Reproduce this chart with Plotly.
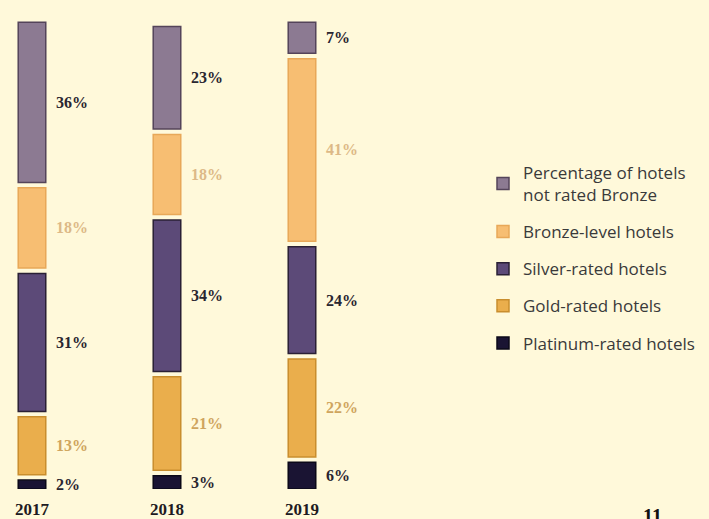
import plotly.graph_objects as go

# ---- data ----
years = ["2017", "2018", "2019"]
platinum = [2, 3, 6]
gold = [13, 21, 22]
silver = [31, 34, 24]
bronze = [18, 18, 41]
not_rated = [36, 23, 7]

series_names = [
    "Platinum-rated hotels",
    "Gold-rated hotels",
    "Silver-rated hotels",
    "Bronze-level hotels",
    "Percentage of hotels<br>not rated Bronze",
]
series_values = [platinum, gold, silver, bronze, not_rated]

# ---- styles ----
fills = ["#1A1433", "#EAAE4C", "#5C4A78", "#F7BE72", "#8C7A92"]
edges = ["#0B0818", "#C98E2E", "#2A2035", "#E8A858", "#54445A"]
label_colors = ["#2A2630", "#CFA55E", "#2A2630", "#DDB987", "#2A2630"]
BG = "#FFF9DA"
GAP = 1.2  # visual gap between stacked segments (data units)

fig = go.Figure()

n = len(series_names)
cum = [0.0] * len(years)
annotations = []
for k, (name, vals) in enumerate(zip(series_names, series_values)):
    bases = [cum[i] + k * GAP for i in range(len(years))]
    fig.add_trace(go.Bar(
        x=years, y=vals, base=bases, name=name,
        width=0.204,
        marker=dict(color=fills[k], line=dict(color=edges[k], width=1.5)),
        legendgroup=str(k), legendrank=n - k,
        hoverinfo="skip",
    ))
    for i, v in enumerate(vals):
        annotations.append(dict(
            x=i, y=bases[i] + v / 2, xref="x", yref="y",
            text=f"<b>{v}%</b>", showarrow=False, xanchor="left", yanchor="middle",
            xshift=22,
            font=dict(family="Liberation Serif", size=16, color=label_colors[k]),
        ))
    cum = [cum[i] + vals[i] for i in range(len(years))]

# small cut-off glyph at bottom right (page number, partly outside the frame)
annotations.append(dict(
    x=652 / 709, y=-0.03, xref="paper", yref="paper", text="<b>11</b>",
    showarrow=False, xanchor="center", yanchor="top",
    font=dict(family="Liberation Serif", size=20, color="#111111"),
))

fig.update_layout(
    width=709, height=519,
    margin=dict(l=0, r=0, t=15, b=30),
    paper_bgcolor=BG, plot_bgcolor=BG,
    barmode="overlay",
    showlegend=True,
    legend=dict(
        x=483 / 709, y=0.705, xanchor="left", yanchor="top",
        traceorder="grouped", tracegroupgap=12,
        bgcolor="rgba(0,0,0,0)",
        font=dict(family="Open Sans", size=17, color="#3A3A3A"),
    ),
    annotations=annotations,
    xaxis=dict(
        type="category", range=[-0.237, 5.015],
        showgrid=False, zeroline=False, showline=False, ticks="",
        tickfont=dict(family="Liberation Serif", size=17, color="#1E1B22"),
        ticklabelstandoff=8,
        tickprefix="<b>", ticksuffix="</b>",
    ),
    yaxis=dict(
        range=[0, 106.4], showgrid=False, zeroline=False, showline=False,
        showticklabels=False, ticks="",
    ),
    font=dict(family="Liberation Serif"),
)

fig.write_html("out.html")
